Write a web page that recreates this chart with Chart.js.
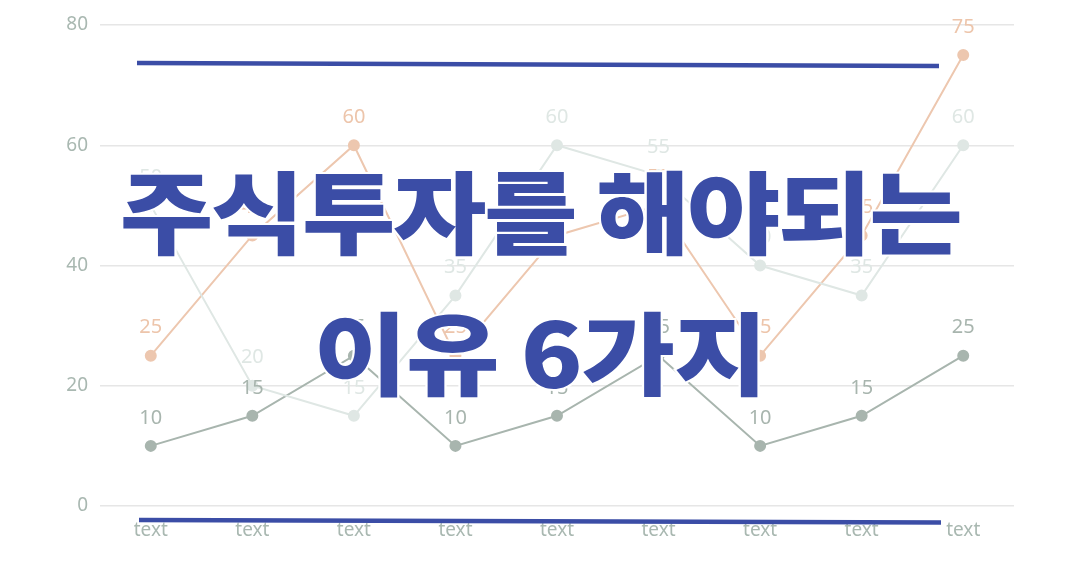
<!DOCTYPE html>
<html>
<head>
<meta charset="utf-8">
<script src="https://cdn.jsdelivr.net/npm/chart.js@4"></script>
<style>
  html, body { margin: 0; padding: 0; background: #fff; }
  #wrap { position: relative; width: 1080px; height: 574px; }
  #chart { position: absolute; left: 0; top: 0; }
  .title {
    position: absolute; left: 0; width: 1080px; text-align: center;
    font-family: "Noto Sans CJK KR", sans-serif; font-weight: 900;
    font-size: 90px; line-height: 1; color: #3b4da6;
    letter-spacing: -1px;
    -webkit-text-stroke: 4px #fff; paint-order: stroke fill;
    white-space: nowrap;
    transform: scaleX(1.13); transform-origin: 540px 0;
  }
</style>
</head>
<body>
<div id="wrap">
  <canvas id="chart" width="1080" height="574"></canvas>
  <div class="title" id="t1" style="top:163px; letter-spacing:-2.2px">주식투자를 해야되는</div>
  <div class="title" id="t2" style="top:304px">이유 6가지</div>
</div>
<script>
const categories = ['text', 'text', 'text', 'text', 'text', 'text', 'text', 'text', 'text'];
const orangeValues = [25, 45, 60, 25, 45, 50, 25, 45, 75];
const lightValues = [50, 20, 15, 35, 60, 55, 40, 35, 60];
const darkValues = [10, 15, 25, 10, 15, 25, 10, 15, 25];
const yTicks = [0, 20, 40, 60, 80];

const tickColor = '#a9b8b1';

// value labels above each point, same colour as the line
const valueLabels = {
  id: 'valueLabels',
  afterDatasetsDraw(chart) {
    const ctx = chart.ctx;
    ctx.save();
    ctx.font = '20px "Noto Sans", sans-serif';
    ctx.textAlign = 'center';
    ctx.textBaseline = 'middle';
    chart.data.datasets.forEach((ds, i) => {
      const meta = chart.getDatasetMeta(i);
      ctx.fillStyle = ds.labelColor;
      meta.data.forEach((pt, j) => {
        ctx.fillText(String(ds.data[j]), pt.x, pt.y - 28);
      });
    });
    ctx.restore();
  },
};

// the two blue rules framing the title
const frameLines = {
  id: 'frameLines',
  afterDraw(chart) {
    const ctx = chart.ctx;
    ctx.save();
    ctx.strokeStyle = '#3b4da6';
    ctx.lineWidth = 4.5;
    ctx.beginPath();
    ctx.moveTo(137, 63);
    ctx.lineTo(939, 66);
    ctx.moveTo(139, 520);
    ctx.lineTo(941, 522.5);
    ctx.stroke();
    ctx.restore();
  },
};

new Chart(document.getElementById('chart'), {
  type: 'line',
  data: {
    labels: categories,
    datasets: [
      {
        data: lightValues,
        borderColor: '#dfe7e4',
        backgroundColor: '#dfe7e4',
        labelColor: '#dfe7e4',
      },
      {
        data: orangeValues,
        borderColor: '#edc7af',
        backgroundColor: '#edc7af',
        labelColor: '#edc5ab',
      },
      {
        data: darkValues,
        borderColor: '#a8b5ae',
        backgroundColor: '#a8b5ae',
        labelColor: '#a8b5ae',
      },
    ].map((d) => ({
      ...d,
      borderWidth: 2,
      pointRadius: 5,
      pointHoverRadius: 5,
      tension: 0,
      fill: false,
    })),
  },
  options: {
    responsive: false,
    animation: false,
    layout: { padding: { top: 25, right: 66, bottom: 0, left: 0 } },
    plugins: {
      legend: { display: false },
      tooltip: { enabled: false },
    },
    scales: {
      x: {
        offset: true,
        grid: { display: false, drawTicks: false },
        border: { display: false },
        ticks: { color: tickColor, font: { size: 19, family: '"Noto Sans", sans-serif' }, padding: 13 },
        afterFit(scale) { scale.height = 68; },
      },
      y: {
        min: 0,
        max: 80,
        afterBuildTicks(scale) { scale.ticks = yTicks.map((v) => ({ value: v })); },
        grid: { color: '#e6e6e6', lineWidth: 1.5, drawTicks: false },
        border: { display: false },
        ticks: { color: tickColor, font: { size: 19, family: '"Noto Sans", sans-serif' }, padding: 12 },
        afterFit(scale) { scale.width = 100; },
      },
    },
  },
  plugins: [valueLabels, frameLines],
});
</script>
</body>
</html>
